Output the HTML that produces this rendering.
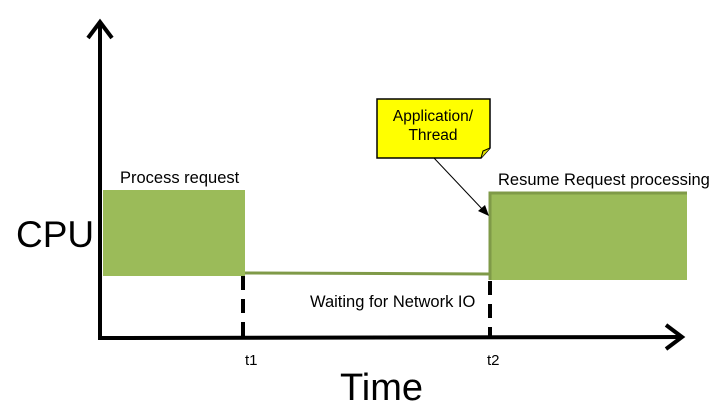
<!DOCTYPE html>
<html><head><style>
body{margin:0;background:#fff;}
svg text{font-family:"Liberation Sans",sans-serif;}
</style></head><body>
<svg width="715" height="413" viewBox="0 0 715 413" xmlns="http://www.w3.org/2000/svg">
<rect x="103" y="190" width="142" height="86" fill="#9bbb59"/>
<line x1="245" y1="273" x2="490" y2="274" stroke="#7f9a48" stroke-width="3"/>
<rect x="489" y="192" width="198" height="88" fill="#9bbb59"/>
<path d="M490 280 V193 H687" fill="none" stroke="#7f9a48" stroke-width="3"/>
<line x1="243" y1="276" x2="243" y2="338" stroke="#000" stroke-width="4" stroke-dasharray="14,9"/>
<line x1="490" y1="281" x2="490" y2="338" stroke="#000" stroke-width="4" stroke-dasharray="14,9"/>
<line x1="100" y1="24" x2="100" y2="339" stroke="#000" stroke-width="4"/>
<path d="M88 38 L100 22 L112 38" fill="none" stroke="#000" stroke-width="4" stroke-linejoin="miter"/>
<line x1="98" y1="338" x2="681" y2="337" stroke="#000" stroke-width="4"/>
<path d="M666 325 L682 337 L666 349" fill="none" stroke="#000" stroke-width="4"/>
<path d="M377 99 H490 V148 L481 158 H377 Z" fill="#ffff00" stroke="#000" stroke-width="1.5"/>
<path d="M481 158 L483 151 L490 148" fill="#e0e000" stroke="#000" stroke-width="1"/>
<text x="433" y="121" font-size="15.5" text-anchor="middle">Application/</text>
<text x="433" y="140" font-size="15.5" text-anchor="middle">Thread</text>
<line x1="434" y1="158" x2="484" y2="211" stroke="#000" stroke-width="1"/>
<path d="M489 216 L478 211 L485 205 Z" fill="#000"/>
<text x="120" y="183" font-size="16.5">Process request</text>
<text x="498" y="185" font-size="16.5">Resume Request processing</text>
<text x="310" y="307" font-size="16.5">Waiting for Network IO</text>
<text x="16" y="247" font-size="37">CPU</text>
<text x="245" y="365" font-size="15">t1</text>
<text x="487" y="365" font-size="15">t2</text>
<text x="340" y="400" font-size="38">Time</text>
</svg>
</body></html>
